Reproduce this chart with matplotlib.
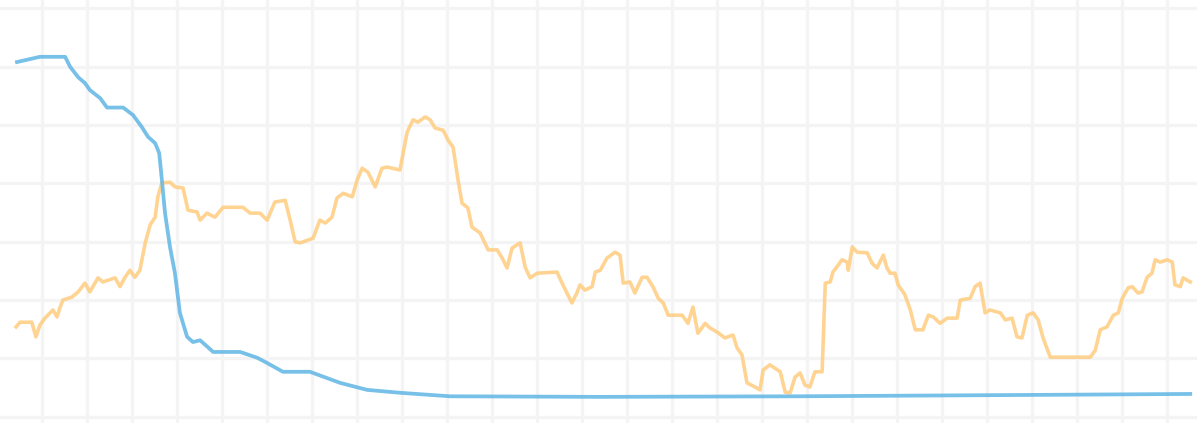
import matplotlib.pyplot as plt
from matplotlib.ticker import MultipleLocator

# blue series (smooth decline then flat)
blue_x = [-0.55, -0.04, 0.52, 0.63, 0.81, 0.96, 1.07, 1.30, 1.45, 1.81, 2.03, 2.23,
          2.36, 2.52, 2.61, 2.67, 2.74, 2.85, 2.96, 3.07, 3.23, 3.36, 3.52, 3.81,
          4.41, 4.79, 5.01, 5.36, 5.96, 6.63, 7.23, 7.96, 9.07, 12.4, 16.85, 21.3, 25.52]
blue_y = [60.8, 61.7, 61.7, 60.0, 58.2, 57.2, 56.0, 54.6, 53.0, 53.0, 51.7, 49.6,
          48.0, 46.9, 45.2, 40.6, 34.9, 29.1, 24.6, 17.8, 13.7, 12.8, 13.1, 11.1,
          11.1, 10.1, 9.2, 7.7, 7.7, 5.8, 4.6, 4.1, 3.5, 3.4, 3.5, 3.7, 3.9]

# orange series (noisy)
orange_x = [-0.57, -0.48, -0.22, -0.13, -0.04, 0.07, 0.25, 0.34, 0.41, 0.47, 0.67, 0.81,
            0.96, 1.07, 1.25, 1.36, 1.63, 1.74, 1.85, 1.96, 2.07, 2.18, 2.30, 2.41,
            2.52, 2.58, 2.67, 2.85, 2.96, 3.14, 3.25, 3.45, 3.52, 3.67, 3.85, 4.03,
            4.47, 4.63, 4.85, 5.01, 5.18, 5.41, 5.52, 5.63, 5.74, 6.03, 6.18, 6.30,
            6.45, 6.56, 6.70, 6.90, 7.01, 7.12, 7.25, 7.41, 7.56, 7.67, 7.96, 8.12,
            8.25, 8.36, 8.52, 8.63, 8.74, 8.92, 9.03, 9.14, 9.25, 9.34, 9.47, 9.56,
            9.74, 9.92, 10.12, 10.23, 10.34, 10.45, 10.63, 10.74, 10.85, 11.01, 11.45, 11.58,
            11.78, 11.89, 11.96, 12.07, 12.23, 12.30, 12.41, 12.56, 12.74, 12.85, 12.92, 13.07,
            13.18, 13.34, 13.45, 13.58, 13.70, 13.81, 13.92, 14.23, 14.36, 14.47, 14.58, 14.74,
            14.85, 15.01, 15.18, 15.36, 15.45, 15.56, 15.67, 15.85, 15.96, 16.03, 16.18, 16.41,
            16.52, 16.63, 16.74, 16.85, 16.96, 17.07, 17.18, 17.34, 17.41, 17.52, 17.58, 17.67,
            17.78, 17.90, 17.92, 18.01, 18.12, 18.34, 18.45, 18.56, 18.70, 18.78, 18.85, 18.96,
            19.03, 19.18, 19.30, 19.41, 19.58, 19.70, 19.81, 19.96, 20.12, 20.34, 20.41, 20.63,
            20.74, 20.85, 20.96, 21.07, 21.30, 21.41, 21.56, 21.67, 21.78, 21.90, 22.03, 22.14,
            22.25, 22.41, 23.30, 23.41, 23.52, 23.67, 23.81, 23.92, 24.01, 24.14, 24.23, 24.36,
            24.45, 24.56, 24.67, 24.74, 24.85, 25.01, 25.12, 25.18, 25.30, 25.36, 25.52]
orange_y = [15.4, 16.2, 16.2, 13.7, 15.7, 16.9, 18.3, 17.1, 18.8, 20.0, 20.5, 21.4,
            22.9, 21.4, 23.8, 23.1, 23.8, 22.3, 23.9, 25.1, 23.9, 25.1, 29.8, 32.9,
            34.2, 37.7, 40.1, 40.2, 39.4, 39.2, 35.4, 35.1, 33.7, 34.9, 34.2, 35.9,
            35.9, 34.9, 34.9, 33.7, 36.8, 37.1, 33.7, 30.0, 29.8, 30.6, 33.7, 33.2,
            34.2, 37.5, 38.3, 37.7, 40.6, 42.6, 41.9, 39.4, 42.6, 42.8, 42.3, 48.8,
            50.9, 50.5, 51.4, 50.9, 49.5, 49.1, 47.4, 46.2, 40.6, 36.6, 35.8, 32.5,
            31.5, 28.6, 28.6, 27.2, 25.5, 28.9, 29.8, 25.7, 23.8, 24.6, 24.8, 22.6,
            19.5, 21.2, 22.6, 21.7, 22.3, 24.8, 25.1, 27.2, 28.2, 27.7, 22.9, 23.1,
            21.2, 23.9, 23.9, 22.3, 20.3, 19.5, 17.4, 17.4, 16.0, 18.8, 14.3, 16.0,
            15.2, 14.5, 13.5, 14.0, 11.8, 10.6, 5.8, 5.1, 4.6, 8.0, 8.9, 7.7,
            4.2, 4.1, 6.8, 7.5, 5.4, 5.1, 7.7, 7.7, 22.9, 23.1, 24.8, 25.7,
            26.9, 26.5, 25.1, 29.1, 28.2, 28.1, 26.3, 25.5, 27.7, 25.5, 24.6, 24.6,
            22.6, 20.9, 18.3, 14.9, 14.9, 17.4, 17.1, 16.0, 16.9, 16.9, 20.0, 20.3,
            22.3, 22.9, 17.8, 18.3, 17.8, 16.6, 16.9, 13.7, 13.5, 17.4, 17.8, 16.6,
            13.5, 10.2, 10.2, 11.4, 14.9, 15.4, 17.4, 17.8, 20.3, 22.1, 22.3, 21.2,
            21.4, 23.9, 24.6, 26.9, 26.5, 26.9, 26.5, 22.6, 22.3, 23.8, 23.1]

fig = plt.figure(figsize=(11.97, 4.23), dpi=100)
ax = fig.add_axes([0, 0, 1, 1])

ax.plot(orange_x, orange_y, color='#ffcd80', linewidth=2.6, alpha=0.85, solid_joinstyle='round')
ax.plot(blue_x, blue_y, color='#68b9e6', linewidth=2.7, alpha=0.9, solid_joinstyle='round')

ax.set_xlim(-0.927, 25.67)
ax.set_ylim(-1.08, 71.44)
ax.xaxis.set_major_locator(MultipleLocator(1))
ax.yaxis.set_major_locator(MultipleLocator(10))
ax.grid(True, color='#f4f4f4', linewidth=2.4)
ax.set_axisbelow(True)
ax.tick_params(length=0, labelbottom=False, labelleft=False)
for s in ax.spines.values():
    s.set_visible(False)

plt.savefig('out.png', dpi=100)
